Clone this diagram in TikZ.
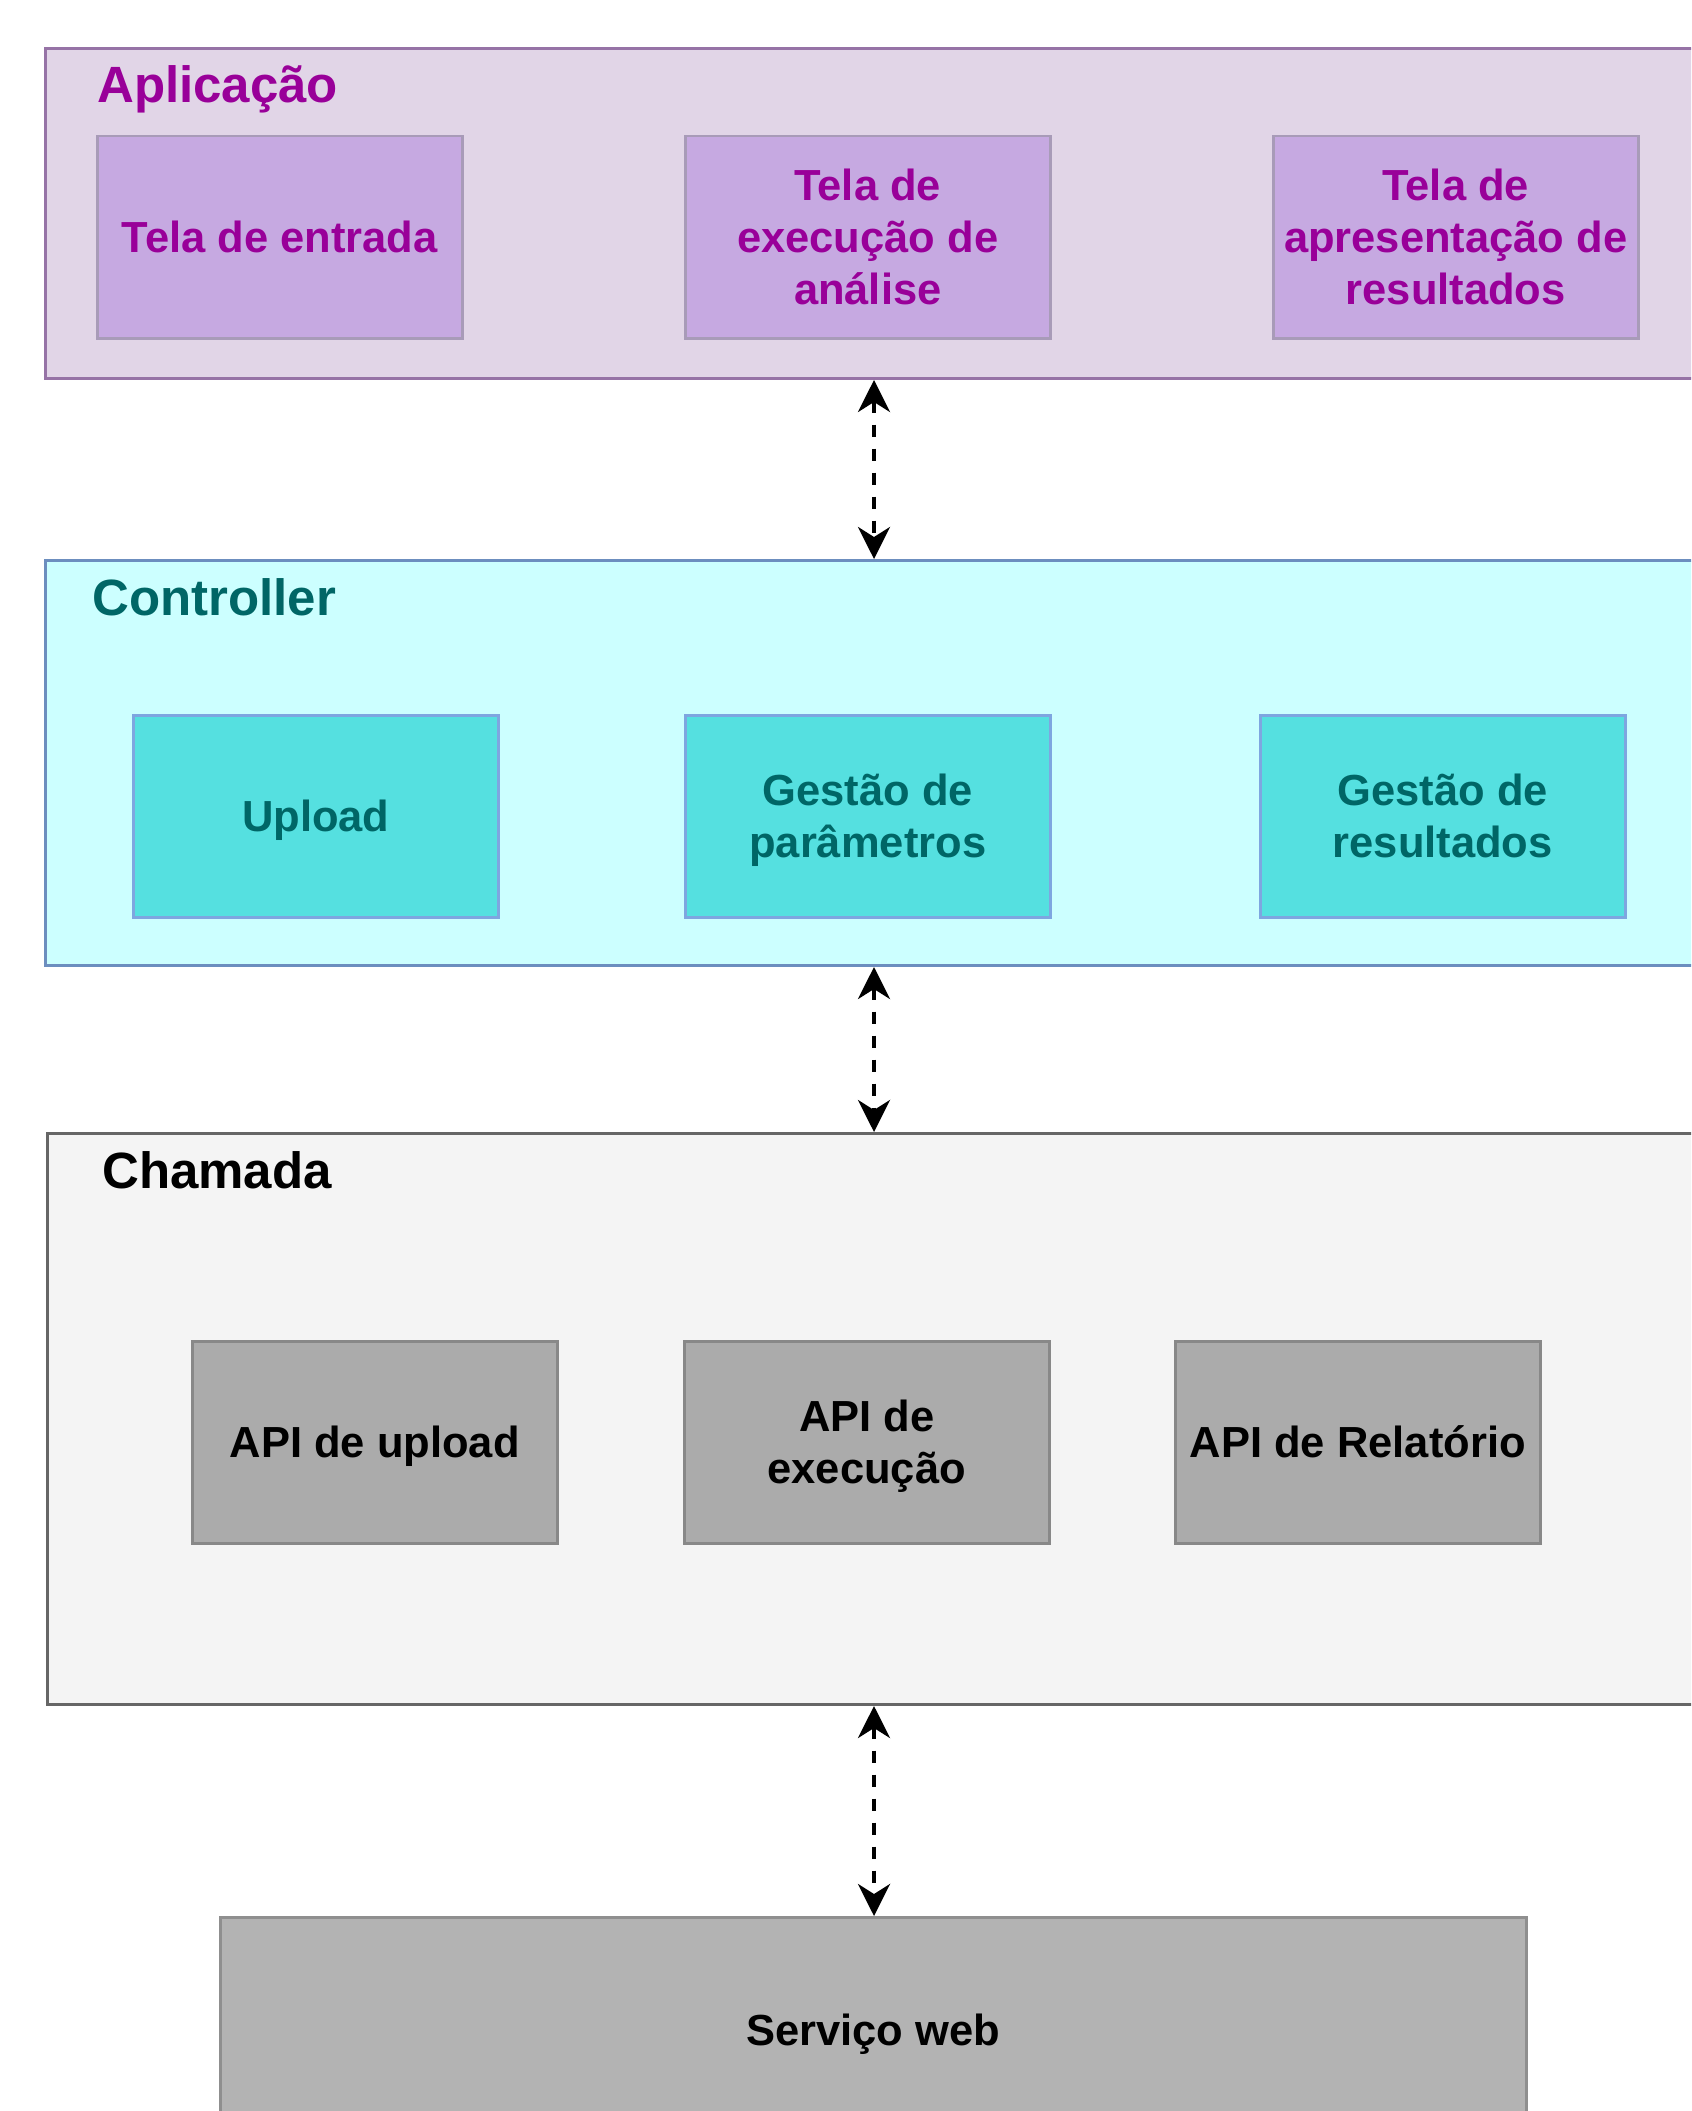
\documentclass[tikz,border=0pt]{standalone}
\usepackage{fontspec}
\setmainfont{Liberation Sans}
\usetikzlibrary{arrows.meta}
\definecolor{appfill}{HTML}{E1D5E7}
\definecolor{appline}{HTML}{9673A6}
\definecolor{scrfill}{HTML}{C6A9E1}
\definecolor{scrline}{HTML}{A89BB8}
\definecolor{apptext}{HTML}{990099}
\definecolor{ctlfill}{HTML}{CCFFFF}
\definecolor{ctlline}{HTML}{6C8EBF}
\definecolor{modfill}{HTML}{55E0E0}
\definecolor{modline}{HTML}{7EA6E0}
\definecolor{ctltext}{HTML}{006666}
\definecolor{chfill}{HTML}{F4F4F4}
\definecolor{chline}{HTML}{666666}
\definecolor{apifill}{HTML}{ABABAB}
\definecolor{apiline}{HTML}{888888}
\definecolor{webfill}{HTML}{B3B3B3}
\definecolor{webline}{HTML}{8F8F8F}
\newcommand\ts{\rule{0pt}{41pt}}
\newcommand\bs{\rule[-11pt]{0pt}{11pt}}
\tikzset{
  layer/.style={draw, line width=3pt, anchor=north west, inner sep=0pt, minimum width=1700pt},
  layertitle/.style={anchor=base west, inner sep=0pt, font=\fontsize{51}{61}\selectfont\bfseries},
  comp/.style={draw, line width=2.5pt, anchor=north west, minimum width=365pt, minimum height=202pt,
    inner sep=0pt, align=center, font=\fontsize{43.5}{52}\selectfont\bfseries},
  scr/.style={comp, fill=scrfill, draw=scrline, text=apptext},
  mod/.style={comp, fill=modfill, draw=modline, text=ctltext},
  api/.style={comp, fill=apifill, draw=apiline, text=black},
  conn/.style={line width=4pt, dash pattern=on 12pt off 12pt,
    {Stealth[length=32pt,width=32pt,inset=10pt]}-{Stealth[length=32pt,width=32pt,inset=10pt]}},
}
\begin{document}
\begin{tikzpicture}[x=1pt,y=-1pt]
\useasboundingbox (0,0) rectangle (1691,2111);
\clip (0,0) rectangle (1691,2111);
\fill[white] (0,0) rectangle (1691,2111);

% Aplicacao layer
\node[layer, fill=appfill, draw=appline, minimum height=330pt] (app) at (44,47) {};
\node[layertitle, text=apptext] (apptitle) at (97,103) {Aplicação};
\node[scr] (s1) at (96,135) {\ts Tela de entrada\bs};
\node[scr] (s2) at (684,135) {\ts Tela de\\execução de\\análise\bs};
\node[scr] (s3) at (1272,135) {\ts Tela de\\apresentação de\\resultados\bs};

% Controller layer
\node[layer, fill=ctlfill, draw=ctlline, minimum height=405pt] (ctl) at (44,559) {};
\node[layertitle, text=ctltext] (ctltitle) at (92,615) {Controller};
\node[mod] (c1) at (132,714) {\ts Upload\bs};
\node[mod] (c2) at (684,714) {\ts Gestão de\\parâmetros\bs};
\node[mod] (c3) at (1259,714) {\ts Gestão de\\resultados\bs};

% Chamada layer
\node[layer, fill=chfill, draw=chline, minimum height=571pt] (ch) at (46,1132) {};
\node[layertitle, text=black] (chtitle) at (102,1188) {Chamada};
\node[api] (p1) at (191,1340) {\ts API de upload\bs};
\node[api] (p2) at (683,1340) {\ts API de\\execução\bs};
\node[api] (p3) at (1174,1340) {\ts API de Relatório\bs};

% Servico web
\node[comp, fill=webfill, draw=webline, minimum width=1306pt, minimum height=226pt] (web) at (219,1916) {\ts Serviço web\bs};

% connectors
\coordinate (ax) at (874,0);
\draw[conn] (app.south -| ax) -- (ctl.north -| ax);
\draw[conn] (ctl.south -| ax) -- (ch.north -| ax);
\draw[conn] (ch.south -| ax) -- (web.north -| ax);
\end{tikzpicture}
\end{document}
